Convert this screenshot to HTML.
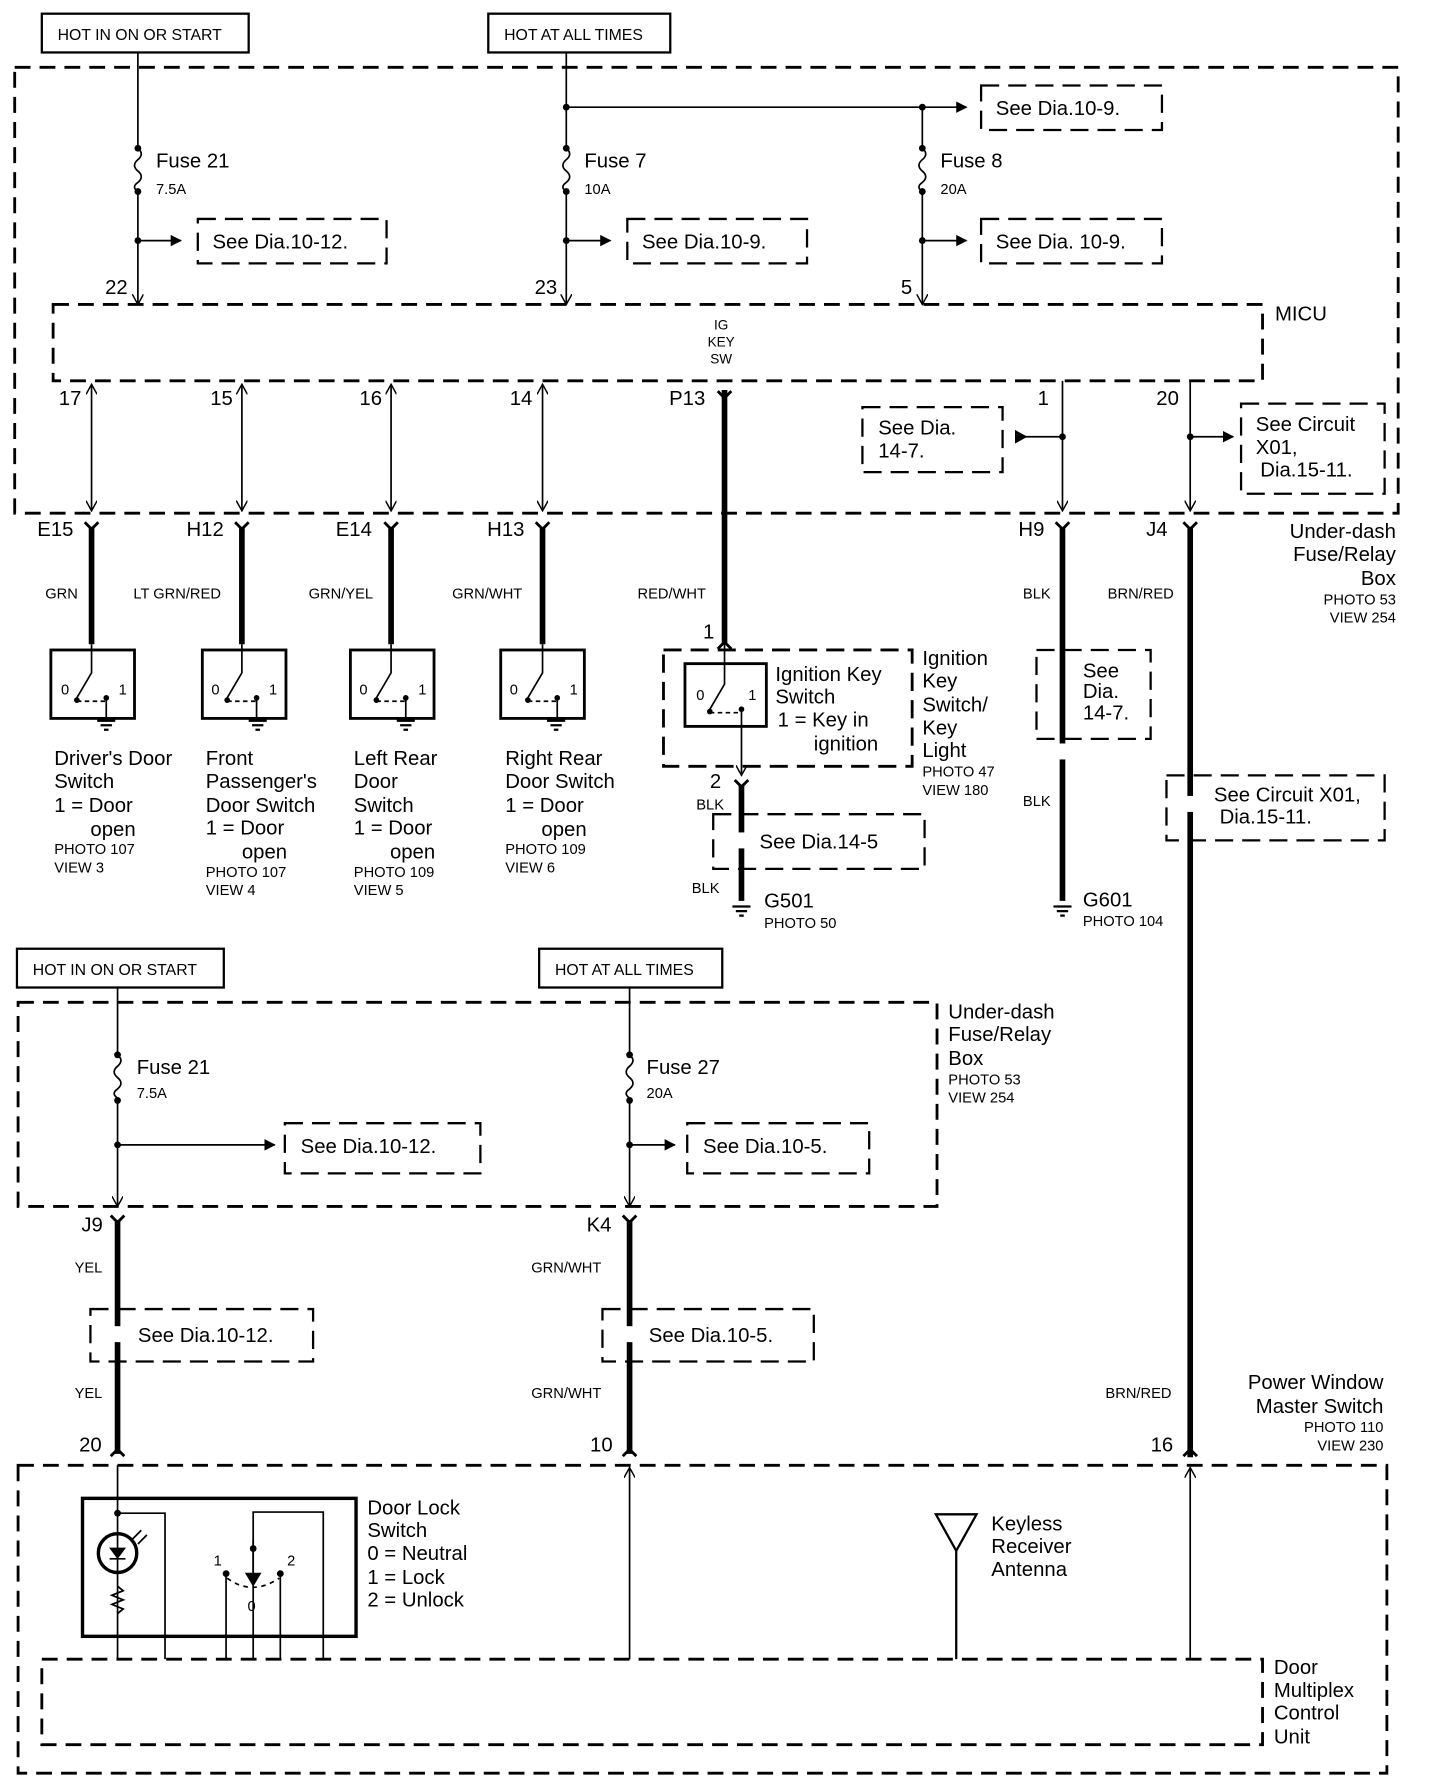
<!DOCTYPE html>
<html><head><meta charset="utf-8"><style>html,body{margin:0;padding:0;background:#fff}svg{display:block}text{font-family:"Liberation Sans",sans-serif;fill:#000}</style></head>
<body>
<svg width="1440" height="1788" viewBox="0 0 1274 1568" preserveAspectRatio="none" xmlns="http://www.w3.org/2000/svg">
<defs>
<marker id="a" markerWidth="10" markerHeight="10" refX="9" refY="5" orient="auto" markerUnits="userSpaceOnUse"><path d="M0,0 L10,5 L0,10 z" fill="#000"/></marker>
<marker id="o" markerWidth="10" markerHeight="10" refX="9" refY="5" orient="auto" markerUnits="userSpaceOnUse"><path d="M0,0 L9,5 L0,10" fill="none" stroke="#000" stroke-width="1.3"/></marker>
<marker id="os" markerWidth="10" markerHeight="10" refX="9" refY="5" orient="auto-start-reverse" markerUnits="userSpaceOnUse"><path d="M0,0 L9,5 L0,10" fill="none" stroke="#000" stroke-width="1.3"/></marker>
</defs>
<g fill="none" stroke="#000" stroke-width="1.5">
<rect x="37" y="12" width="183" height="34" stroke-width="2"/>
<rect x="432" y="12" width="161" height="34" stroke-width="2"/>
<rect x="13" y="59" width="1224" height="391" stroke-dasharray="14,8" stroke-width="2.5"/>
<rect x="47" y="267" width="1070" height="67" stroke-dasharray="14,8" stroke-width="2.5"/>
<path d="M122 46 V130 M122 168 V267" marker-end="url(#o)"/>
<path d="M122 130 q6 5 0 10 q-6 5 0 10 q6 5 0 10 q-6 4 0 8"/>
<path d="M122 211 H160" marker-end="url(#a)"/>
<path d="M501 46 V130 M501 168 V267" marker-end="url(#o)"/>
<path d="M501 130 q6 5 0 10 q-6 5 0 10 q6 5 0 10 q-6 4 0 8"/>
<path d="M501 211 H540" marker-end="url(#a)"/>
<path d="M501 94 H855" marker-end="url(#a)"/>
<path d="M816 94 V130 M816 168 V267" marker-end="url(#o)"/>
<path d="M816 130 q6 5 0 10 q-6 5 0 10 q6 5 0 10 q-6 4 0 8"/>
<path d="M816 211 H855" marker-end="url(#a)"/>
<g stroke-dasharray="16,8" stroke-width="2">
<rect x="175" y="192" width="167" height="39"/>
<rect x="555" y="192" width="159" height="39"/>
<rect x="868" y="192" width="160" height="39"/>
<rect x="868" y="75" width="160" height="39"/>
<rect x="763" y="357" width="124" height="57"/>
<rect x="1098" y="354" width="127" height="79"/>
<rect x="917" y="570" width="101" height="78"/>
<rect x="1032" y="680" width="193" height="57"/>
<rect x="631" y="714" width="187" height="48"/>
<rect x="587" y="570" width="220" height="102" stroke-width="2.5"/>
</g>
<path d="M81 337 V448" marker-start="url(#os)" marker-end="url(#os)"/>
<path d="M214 337 V448" marker-start="url(#os)" marker-end="url(#os)"/>
<path d="M346 337 V448" marker-start="url(#os)" marker-end="url(#os)"/>
<path d="M480 337 V448" marker-start="url(#os)" marker-end="url(#os)"/>
<path d="M940 334 V448" marker-end="url(#o)"/>
<path d="M898 383 H940"/>
<path d="M1053 334 V448" marker-end="url(#o)"/>
<path d="M1053 383 H1091" marker-end="url(#a)"/>
<g stroke-width="5">
<path d="M81 462 V565 M214 462 V565 M346 462 V565 M480 462 V565"/>
<path d="M641 342 V565"/>
<path d="M940 462 V790"/>
<path d="M1053 462 V1278"/>
<path d="M656 688 V790"/>
<path d="M104 1070 V1275 M557 1070 V1275"/>
</g>
<g stroke-width="2.5">
<path d="M75 458 l6 6 l6 -6 M208 458 l6 6 l6 -6 M340 458 l6 6 l6 -6 M474 458 l6 6 l6 -6 M934 458 l6 6 l6 -6 M1047 458 l6 6 l6 -6"/>
<path d="M635 343 l6 6 l6 -6 M635 569 l6 -6 l6 6 M650 684 l6 6 l6 -6 M98 1066 l6 6 l6 -6 M551 1066 l6 6 l6 -6 M98 1277 l6 -6 l6 6 M551 1277 l6 -6 l6 6 M1047 1277 l6 -6 l6 6"/>
</g>
<g stroke-width="2.5"><rect x="45" y="570" width="74" height="60"/><rect x="179" y="570" width="74" height="60"/><rect x="310" y="570" width="74" height="60"/><rect x="443" y="570" width="74" height="60"/><rect x="606" y="582" width="72" height="55"/></g>
<g>
<path d="M68 615 H94" stroke-dasharray="4,3"/>
<path d="M201 615 H227" stroke-dasharray="4,3"/>
<path d="M333 615 H359" stroke-dasharray="4,3"/>
<path d="M467 615 H493" stroke-dasharray="4,3"/>
<path d="M628 625 H656" stroke-dasharray="4,3"/>
</g>
<path d="M81 565 V590 L68 612 M94 612 V630 M214 565 V590 L201 612 M227 612 V630 M346 565 V590 L333 612 M359 612 V630 M480 565 V590 L467 612 M493 612 V630 M641 565 V600 L628 622 M656 622 V680" marker-end="url(#o)"/>
<path d="M86 632 h16 M89 636 h10 M92 640 h4 M220 632 h16 M223 636 h10 M226 640 h4 M351 632 h16 M354 636 h10 M357 640 h4 M484 632 h16 M487 636 h10 M490 640 h4 M648 795 h16 M651 799 h10 M654 803 h4 M932 795 h16 M935 799 h10 M938 803 h4" stroke-width="2"/>
<rect x="15" y="832" width="183" height="34" stroke-width="2"/>
<rect x="477" y="832" width="162" height="34" stroke-width="2"/>
<rect x="16" y="879" width="813" height="179" stroke-dasharray="14,8" stroke-width="2.5"/>
<path d="M104 866 V925 M104 965 V1058" marker-end="url(#o)"/>
<path d="M104 925 q6 5 0 10 q-6 5 0 10 q6 5 0 10 q-6 4 0 8"/>
<path d="M104 1004 H243" marker-end="url(#a)"/>
<path d="M557 866 V925 M557 965 V1058" marker-end="url(#o)"/>
<path d="M557 925 q6 5 0 10 q-6 5 0 10 q6 5 0 10 q-6 4 0 8"/>
<path d="M557 1004 H597" marker-end="url(#a)"/>
<g stroke-dasharray="16,8" stroke-width="2">
<rect x="252" y="985" width="173" height="44"/>
<rect x="608" y="985" width="161" height="44"/>
<rect x="80" y="1148" width="197" height="46"/>
<rect x="533" y="1148" width="187" height="46"/>
</g>
<rect x="16" y="1285" width="1211" height="270" stroke-dasharray="14,8" stroke-width="2.5"/>
<rect x="37" y="1455" width="1080" height="75" stroke-dasharray="14,8" stroke-width="2.5"/>
<rect x="73" y="1314" width="242" height="121" stroke-width="3"/>
<path d="M104 1285 V1455 M104 1327 H146 V1455 M224 1455 V1326 H286 V1455 M200 1380 V1455 M248 1380 V1455"/>
<path d="M224 1350 V1382"/>
<path d="M218 1380 l6 10 l6 -10z" fill="#000"/>
<path d="M201 1384 q22 16 46 0" stroke-dasharray="4,4"/>
<circle cx="104" cy="1362" r="17" stroke-width="3"/>
<path d="M98 1358 h12 l-6 8z M97 1367 h14" fill="#000"/>
<path d="M117 1350 l8 -8 M122 1354 l8 -8" />
<path d="M104 1391 l5 4 l-10 4 l10 4 l-10 4 l10 4 l-5 4"/>
<path d="M557 1455 V1287" marker-end="url(#o)"/>
<path d="M1053 1455 V1287" marker-end="url(#o)"/>
<path d="M846 1455 V1360 M828 1328 L846 1360 L864 1328 Z" stroke-width="2"/>
</g>
<path d="M898 377 L909 383 L898 389 z" fill="#000"/>
<g fill="#000">
<circle cx="122" cy="130" r="3"/><circle cx="122" cy="168" r="3"/><circle cx="122" cy="211" r="3"/>
<circle cx="501" cy="130" r="3"/><circle cx="501" cy="168" r="3"/><circle cx="501" cy="211" r="3"/><circle cx="501" cy="94" r="3"/>
<circle cx="816" cy="130" r="3"/><circle cx="816" cy="168" r="3"/><circle cx="816" cy="211" r="3"/><circle cx="816" cy="94" r="3"/>
<circle cx="940" cy="383" r="3"/><circle cx="1053" cy="383" r="3"/>
<circle cx="104" cy="925" r="3"/><circle cx="104" cy="965" r="3"/><circle cx="104" cy="1004" r="3"/>
<circle cx="557" cy="925" r="3"/><circle cx="557" cy="965" r="3"/><circle cx="557" cy="1004" r="3"/>
<circle cx="104" cy="1327" r="3"/><circle cx="224" cy="1358" r="3"/><circle cx="200" cy="1380" r="3"/><circle cx="248" cy="1380" r="3"/>
<circle cx="68" cy="614" r="2.5"/><circle cx="94" cy="612" r="2.5"/><circle cx="201" cy="614" r="2.5"/><circle cx="227" cy="612" r="2.5"/><circle cx="333" cy="614" r="2.5"/><circle cx="359" cy="612" r="2.5"/><circle cx="467" cy="614" r="2.5"/><circle cx="493" cy="612" r="2.5"/><circle cx="628" cy="624" r="2.5"/><circle cx="656" cy="622" r="2.5"/>
</g>
<rect x="930" y="652" width="20" height="14" fill="#fff"/>
<rect x="1043" y="698" width="20" height="14" fill="#fff"/>
<rect x="646" y="730" width="20" height="14" fill="#fff"/>
<rect x="94" y="1163" width="20" height="14" fill="#fff"/>
<rect x="547" y="1163" width="20" height="14" fill="#fff"/>
<g font-size="14">
<text x="51" y="35">HOT IN ON OR START</text><text x="446" y="35">HOT AT ALL TIMES</text>
<text x="29" y="855">HOT IN ON OR START</text><text x="491" y="855">HOT AT ALL TIMES</text>
</g>
<g font-size="18">
<text x="138" y="147">Fuse 21</text><text x="517" y="147">Fuse 7</text><text x="832" y="147">Fuse 8</text>
<text x="188" y="218">See Dia.10-12.</text><text x="568" y="218">See Dia.10-9.</text><text x="881" y="218">See Dia. 10-9.</text><text x="881" y="101">See Dia.10-9.</text>
<text x="93" y="258">22</text><text x="473" y="258">23</text><text x="797" y="258">5</text>
<text x="1128" y="281">MICU</text>
<text x="52" y="355">17</text><text x="186" y="355">15</text><text x="318" y="355">16</text><text x="451" y="355">14</text><text x="592" y="355">P13</text><text x="918" y="355">1</text><text x="1023" y="355">20</text>
<text x="777" y="381">See Dia.</text><text x="777" y="401">14-7.</text>
<text x="1111" y="378">See Circuit</text><text x="1111" y="398">X01,</text><text x="1115" y="418">Dia.15-11.</text>
<text x="1235" y="472" text-anchor="end">Under-dash</text><text x="1235" y="492" text-anchor="end">Fuse/Relay</text><text x="1235" y="513" text-anchor="end">Box</text>
<text x="33" y="470">E15</text><text x="165" y="470">H12</text><text x="297" y="470">E14</text><text x="431" y="470">H13</text><text x="901" y="470">H9</text><text x="1014" y="470">J4</text>
<text x="622" y="560">1</text>
<text x="686" y="597">Ignition Key</text><text x="686" y="617">Switch</text><text x="688" y="637">1 = Key in</text><text x="720" y="658">ignition</text>
<text x="816" y="583">Ignition</text><text x="816" y="603">Key</text><text x="816" y="624">Switch/</text><text x="816" y="644">Key</text><text x="816" y="664">Light</text>
<text x="958" y="594">See</text><text x="958" y="612">Dia.</text><text x="958" y="631">14-7.</text>
<text x="48" y="671">Driver's Door</text><text x="48" y="691">Switch</text><text x="48" y="712">1 = Door</text><text x="80" y="733">open</text>
<text x="182" y="671">Front</text><text x="182" y="691">Passenger's</text><text x="182" y="712">Door Switch</text><text x="182" y="732">1 = Door</text><text x="214" y="753">open</text>
<text x="313" y="671">Left Rear</text><text x="313" y="691">Door</text><text x="313" y="712">Switch</text><text x="313" y="732">1 = Door</text><text x="345" y="753">open</text>
<text x="447" y="671">Right Rear</text><text x="447" y="691">Door Switch</text><text x="447" y="712">1 = Door</text><text x="479" y="733">open</text>
<text x="628" y="691">2</text><text x="672" y="744">See Dia.14-5</text>
<text x="676" y="796">G501</text><text x="958" y="795">G601</text>
<text x="1074" y="703">See Circuit X01,</text><text x="1079" y="722">Dia.15-11.</text>
<text x="121" y="942">Fuse 21</text><text x="572" y="942">Fuse 27</text>
<text x="266" y="1011">See Dia.10-12.</text><text x="622" y="1011">See Dia.10-5.</text>
<text x="839" y="893">Under-dash</text><text x="839" y="913">Fuse/Relay</text><text x="839" y="934">Box</text>
<text x="72" y="1080">J9</text><text x="519" y="1080">K4</text>
<text x="122" y="1177">See Dia.10-12.</text><text x="574" y="1177">See Dia.10-5.</text>
<text x="1224" y="1218" text-anchor="end">Power Window</text><text x="1224" y="1239" text-anchor="end">Master Switch</text>
<text x="70" y="1273">20</text><text x="522" y="1273">10</text><text x="1018" y="1273">16</text>
<text x="325" y="1328">Door Lock</text><text x="325" y="1348">Switch</text><text x="325" y="1368">0 = Neutral</text><text x="325" y="1389">1 = Lock</text><text x="325" y="1409">2 = Unlock</text>
<text x="877" y="1342">Keyless</text><text x="877" y="1362">Receiver</text><text x="877" y="1382">Antenna</text>
<text x="1127" y="1468">Door</text><text x="1127" y="1488">Multiplex</text><text x="1127" y="1508">Control</text><text x="1127" y="1529">Unit</text>
</g>
<g font-size="13">
<text x="138" y="170">7.5A</text><text x="517" y="170">10A</text><text x="832" y="170">20A</text>
<text x="121" y="963">7.5A</text><text x="572" y="963">20A</text>
<text x="1235" y="530" text-anchor="end">PHOTO 53</text><text x="1235" y="546" text-anchor="end">VIEW 254</text>
<text x="839" y="951">PHOTO 53</text><text x="839" y="967">VIEW 254</text>
<text x="1224" y="1256" text-anchor="end">PHOTO 110</text><text x="1224" y="1272" text-anchor="end">VIEW 230</text>
<text x="48" y="749">PHOTO 107</text><text x="48" y="765">VIEW 3</text>
<text x="182" y="769">PHOTO 107</text><text x="182" y="785">VIEW 4</text>
<text x="313" y="769">PHOTO 109</text><text x="313" y="785">VIEW 5</text>
<text x="447" y="749">PHOTO 109</text><text x="447" y="765">VIEW 6</text>
<text x="816" y="681">PHOTO 47</text><text x="816" y="697">VIEW 180</text>
<text x="676" y="814">PHOTO 50</text><text x="958" y="812">PHOTO 104</text>
<text x="40" y="525">GRN</text><text x="118" y="525">LT GRN/RED</text><text x="273" y="525">GRN/YEL</text><text x="400" y="525">GRN/WHT</text><text x="564" y="525">RED/WHT</text><text x="905" y="525">BLK</text><text x="980" y="525">BRN/RED</text>
<text x="616" y="710">BLK</text><text x="612" y="783">BLK</text><text x="905" y="707">BLK</text>
<text x="66" y="1116">YEL</text><text x="66" y="1226">YEL</text><text x="470" y="1116">GRN/WHT</text><text x="470" y="1226">GRN/WHT</text><text x="978" y="1226">BRN/RED</text>
</g>
<g font-size="12" text-anchor="middle"><text x="638" y="289">IG</text><text x="638" y="304">KEY</text><text x="638" y="319">SW</text></g>
<g font-size="13">
<text x="54" y="609">0</text><text x="105" y="609">1</text><text x="187" y="609">0</text><text x="238" y="609">1</text><text x="318" y="609">0</text><text x="370" y="609">1</text><text x="451" y="609">0</text><text x="504" y="609">1</text><text x="616" y="614">0</text><text x="662" y="614">1</text>
<text x="189" y="1373">1</text><text x="254" y="1373">2</text><text x="219" y="1413">0</text>
</g>
</svg>
</body></html>
